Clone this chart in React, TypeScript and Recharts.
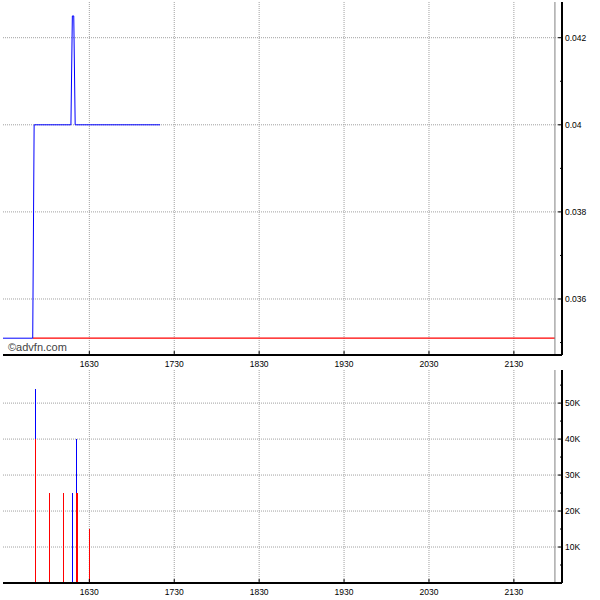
import {
  LineChart,
  Line,
  BarChart,
  Bar,
  XAxis,
  YAxis,
  CartesianGrid,
  ReferenceLine,
} from 'recharts'

// intraday price, times as HH:MM
const priceTimes = ['15:29', '15:50', '15:51', '16:17', '16:18', '16:19', '16:20', '17:20']
const prices = [0.0351, 0.0351, 0.04, 0.04, 0.0425, 0.0425, 0.04, 0.04]
const prevClose = 0.0351

// trades
const volumeTimes = ['15:52', '16:02', '16:12', '16:18', '16:21', '16:22', '16:30']
const sellVolumes = [40000, 25000, 25000, 0, 25000, 25000, 15000]
const buyVolumes = [14000, 0, 0, 25000, 15000, 0, 0]

const xStart = '15:29'
const xEnd = '22:04'
const marketClose = '21:59'
const xTickLabels = ['1630', '1730', '1830', '1930', '2030', '2130']

const priceTicks = [0.035, 0.036, 0.037, 0.038, 0.039, 0.04, 0.041, 0.042]
const priceLabels = [0.036, 0.038, 0.04, 0.042]
const volumeTicks = [5000, 10000, 15000, 20000, 25000, 30000, 35000, 40000, 45000, 50000, 55000]
const volumeLabels = [10000, 20000, 30000, 40000, 50000]

const toMin = (s: string) => {
  const [h, m] = s.split(':').map(Number)
  return h * 60 + m
}
const hhmmToMin = (s: string) => Number(s.slice(0, 2)) * 60 + Number(s.slice(2))

const xDomain = [toMin(xStart), toMin(xEnd)]
const xTicks = xTickLabels.map(hhmmToMin)
const fmtTime = (v: number) =>
  `${Math.floor(v / 60)}${String(v % 60).padStart(2, '0')}`

const priceData = priceTimes.map((t, i) => ({ t: toMin(t), price: prices[i] }))
const volumeData = volumeTimes.map((t, i) => ({
  t: toMin(t),
  sell: sellVolumes[i],
  buy: buyVolumes[i],
}))

const FONT = '"Liberation Sans", Arial, sans-serif'
const GRID = '#a0a0a0'

function RightTick(props: any) {
  const { x, y, payload, labels, fmt } = props
  const major = labels.includes(payload.value)
  return (
    <g>
      <line x1={x - (major ? 4 : 2)} y1={y} x2={x} y2={y} stroke="#000" />
      {major && (
        <text x={x + 3} y={y + 3} fontSize={8.5} fontFamily={FONT} fill="#000">
          {fmt(payload.value)}
        </text>
      )}
    </g>
  )
}

function BottomTick(props: any) {
  const { x, y, payload } = props
  return (
    <g>
      <line x1={x} y1={y - 4} x2={x} y2={y} stroke="#000" />
      <text x={x} y={y + 12} textAnchor="middle" fontSize={8.5} fontFamily={FONT} fill="#000">
        {fmtTime(payload.value)}
      </text>
    </g>
  )
}

function TopTick(props: any) {
  const { x, y } = props
  return <line x1={x} y1={y} x2={x} y2={y + 4} stroke="#000" />
}

function CrispBar(props: any) {
  const { x, y, width, height, fill } = props
  if (!height) return null
  return <rect x={x} y={y} width={width} height={height} fill={fill} shapeRendering="crispEdges" />
}

const border = { stroke: '#000', strokeWidth: 2 }

function App() {
  return (
    <div style={{ position: 'absolute', left: 0, top: 0, width: 600, height: 600, background: '#fff' }}>
      <div style={{ position: 'absolute', left: 0, top: 0 }}>
        <LineChart
          width={600}
          height={370}
          data={priceData}
          margin={{ top: 2, right: 0, bottom: 0, left: 3 }}
        >
          <CartesianGrid
            stroke={GRID}
            strokeDasharray="1 1"
            horizontalValues={priceLabels}
            verticalValues={xTicks}
          />
          <XAxis
            dataKey="t"
            type="number"
            domain={xDomain}
            ticks={xTicks}
            interval={0}
            allowDataOverflow
            height={15}
            tickSize={0}
            tickMargin={0}
            axisLine={border}
            tickLine={false}
            tick={<BottomTick />}
          />
          <XAxis
            xAxisId="top"
            orientation="top"
            type="number"
            domain={xDomain}
            ticks={xTicks}
            interval={0}
            allowDataOverflow
            height={0}
            tickSize={0}
            tickMargin={0}
            axisLine={border}
            tickLine={false}
            tick={<TopTick />}
          />
          <YAxis
            orientation="right"
            type="number"
            domain={[0.034714, 0.04282]}
            ticks={priceTicks}
            interval={0}
            allowDataOverflow
            width={38}
            tickSize={0}
            tickMargin={0}
            axisLine={border}
            tickLine={false}
            tick={<RightTick labels={priceLabels} fmt={(v: number) => String(v)} />}
          />
          <YAxis
            yAxisId="left"
            orientation="left"
            type="number"
            domain={[0.034714, 0.04282]}
            width={0}
            axisLine={border}
            tick={false}
            tickLine={false}
          />
          <ReferenceLine
            segment={[
              { x: toMin(priceTimes[1]), y: prevClose },
              { x: toMin(marketClose), y: prevClose },
            ]}
            stroke="#ff0000"
            strokeWidth={1.3}
          />
          <ReferenceLine x={toMin(marketClose)} stroke="#808080" />
          <Line
            type="linear"
            dataKey="price"
            stroke="#0000ff"
            strokeWidth={1}
            dot={false}
            isAnimationActive={false}
          />
        </LineChart>
      </div>
      <div style={{ position: 'absolute', left: 8, top: 341, font: `11px ${FONT}`, color: '#444' }}>
        ©advfn.com
      </div>
      <div style={{ position: 'absolute', left: 0, top: 360 }}>
        <BarChart
          width={600}
          height={240}
          data={volumeData}
          margin={{ top: 10, right: 0, bottom: 0, left: 3 }}
        >
          <CartesianGrid
            stroke={GRID}
            strokeDasharray="1 1"
            horizontalValues={volumeLabels}
            verticalValues={xTicks}
          />
          <XAxis
            dataKey="t"
            type="number"
            domain={xDomain}
            ticks={xTicks}
            interval={0}
            allowDataOverflow
            height={17}
            tickSize={0}
            tickMargin={0}
            axisLine={border}
            tickLine={false}
            tick={<BottomTick />}
          />
          <XAxis
            xAxisId="top"
            orientation="top"
            type="number"
            domain={xDomain}
            ticks={xTicks}
            interval={0}
            allowDataOverflow
            height={0}
            tickSize={0}
            tickMargin={0}
            axisLine={border}
            tickLine={false}
            tick={<TopTick />}
          />
          <YAxis
            orientation="right"
            type="number"
            domain={[0, 59200]}
            ticks={volumeTicks}
            interval={0}
            allowDataOverflow
            width={38}
            tickSize={0}
            tickMargin={0}
            axisLine={border}
            tickLine={false}
            tick={<RightTick labels={volumeLabels} fmt={(v: number) => `${v / 1000}K`} />}
          />
          <YAxis
            yAxisId="left"
            orientation="left"
            type="number"
            domain={[0, 59200]}
            width={0}
            axisLine={border}
            tick={false}
            tickLine={false}
          />
          <ReferenceLine x={toMin(marketClose)} stroke="#808080" />
          <Bar dataKey="sell" stackId="v" fill="#ff0000" barSize={1} shape={<CrispBar />} isAnimationActive={false} />
          <Bar dataKey="buy" stackId="v" fill="#0000ff" barSize={1} shape={<CrispBar />} isAnimationActive={false} />
        </BarChart>
      </div>
    </div>
  )
}

export default App
